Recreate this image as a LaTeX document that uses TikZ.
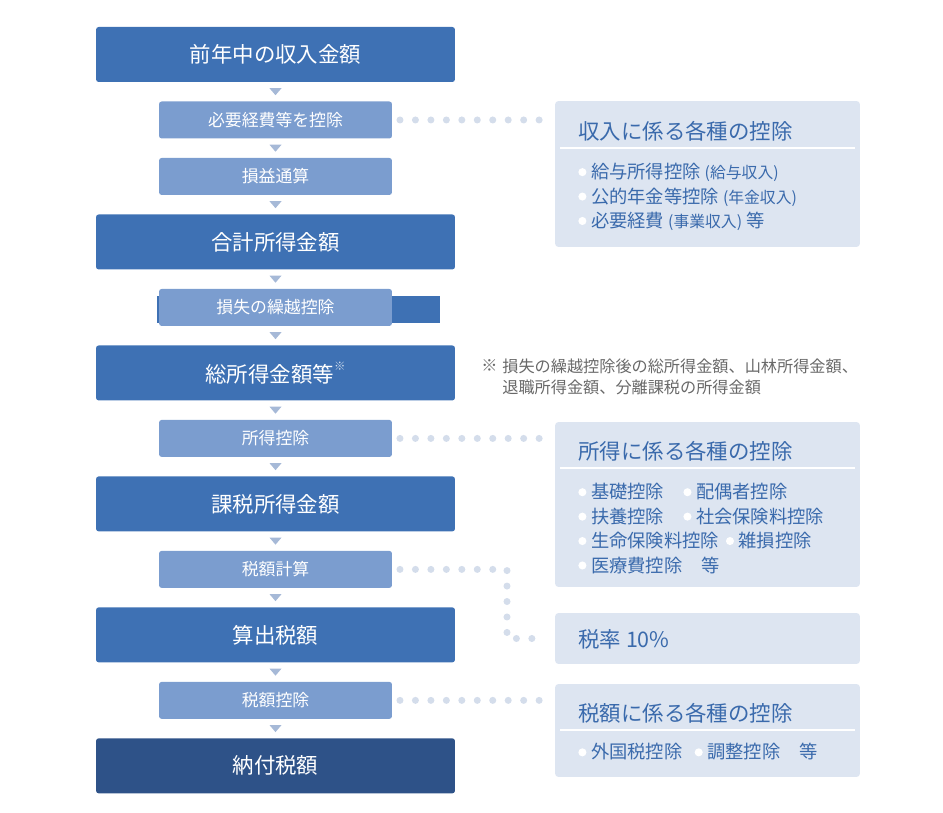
\documentclass[tikz,border=0pt]{standalone}
\usepackage{fontspec}
\setmainfont{Noto Sans CJK JP}
\usetikzlibrary{positioning}

\definecolor{mainblue}{RGB}{62,113,180}
\definecolor{stepblue}{RGB}{123,157,207}
\definecolor{finalblue}{RGB}{46,82,136}
\definecolor{panelblue}{RGB}{221,229,241}
\definecolor{inkblue}{RGB}{58,106,172}
\definecolor{dotgray}{RGB}{212,221,235}
\definecolor{triblue}{RGB}{166,185,215}
\definecolor{notegray}{RGB}{105,105,105}

\newcommand{\bul}{\tikz[baseline={-0.36em}]\fill[white] (0,0) circle[radius=2.3pt];\hspace{2.6pt}}
\newcommand{\paren}[1]{{\fontsize{9}{9}\selectfont #1}}

\begin{document}
\begin{tikzpicture}[x=0.02cm, y=-0.02cm, node distance=0.39cm,
    mainbox/.style={fill=mainblue, rounded corners=1.5pt, inner sep=1pt, outer sep=0pt, minimum width=7.18cm, minimum height=1.1cm, text=white, font=\fontsize{12.2}{14}\selectfont},
    stepbox/.style={fill=stepblue, rounded corners=1.5pt, inner sep=1pt, outer sep=0pt, minimum width=4.66cm, minimum height=0.74cm, text=white, font=\fontsize{9.6}{11}\selectfont},
    panel/.style={fill=panelblue, rounded corners=2pt, inner sep=0pt, outer sep=0pt, minimum width=6.1cm},
    paneltitle/.style={anchor=west, inner sep=0pt, text=inkblue, font=\fontsize{12.2}{14}\selectfont},
    itemlist/.style={anchor=west, inner sep=0pt, align=left, text=inkblue, font=\fontsize{10.4}{13.9}\selectfont},
    panelrule/.style={draw=white, line width=0.8pt},
    dots/.style={draw=dotgray, line width=4pt, line cap=round, dash pattern=on 0pt off 8.8pt, shorten <=0.16cm, shorten >=0.24cm}]
  \useasboundingbox (0,0) rectangle (943,813);

  % main column
  \fill[mainblue] (157,296) rectangle (440,323);
  \node (income) [mainbox] at (275.5,54.5) {前年中の収入金額};
  \node (expenses) [stepbox, below=of income] {必要経費等を控除};
  \node (offset) [stepbox, below=of expenses] {損益通算};
  \node (total) [mainbox, below=of offset] {合計所得金額};
  \node (carry) [stepbox, below=of total] {損失の繰越控除};
  \node (gross) [mainbox, below=of carry] {総所得金額等\raisebox{0.55em}{\textcolor{white!75!mainblue}{\fontsize{6.5}{6.5}\selectfont ※}}};
  \node (deduct) [stepbox, below=of gross] {所得控除};
  \node (taxable) [mainbox, below=of deduct] {課税所得金額};
  \node (calc) [stepbox, below=of taxable] {税額計算};
  \node (computed) [mainbox, below=of calc] {算出税額};
  \node (credit) [stepbox, below=of computed] {税額控除};
  \node (payable) [mainbox, fill=finalblue, below=of credit] {納付税額};

  \foreach \a/\b in {income/expenses, expenses/offset, offset/total, total/carry, carry/gross,
      gross/deduct, deduct/taxable, taxable/calc, calc/computed, computed/credit, credit/payable} {
    \path (\a) -- coordinate[midway] (gap) (\b);
    \fill[triblue] (gap) +(-6,-3.5) -- +(6,-3.5) -- +(0,3.5) -- cycle;
  }

  % panels on the right
  \node (incomepanel) [panel, minimum height=2.92cm] at (707.5,174) {};
  \node (incometitle) [paneltitle] at (578,131) {収入に係る各種の控除};
  \draw[panelrule] (560,148) -- (855,148);
  \node (incomeitems) [itemlist] at (578,197) {\bul 給与所得控除 \paren{(給与収入)}\\
    \bul 公的年金等控除 \paren{(年金収入)}\\
    \bul 必要経費 \paren{(事業収入)} 等};

  \node (deductpanel) [panel, minimum height=3.3cm] at (707.5,504.5) {};
  \node (deducttitle) [paneltitle] at (578,451) {所得に係る各種の控除};
  \draw[panelrule] (560,468) -- (855,468);
  \node (deductitems) [itemlist] at (578,528.5) {\bul 基礎控除\hspace{11pt}\bul 配偶者控除\\
    \bul 扶養控除\hspace{11pt}\bul 社会保険料控除\\
    \bul 生命保険料控除\hspace{4pt}\bul 雑損控除\\
    \bul 医療費控除\hspace{11pt}等};

  \node (ratepanel) [panel, minimum height=1.02cm] at (707.5,638.5) {};
  \node (ratetitle) [paneltitle] at (578,639) {税率 10\%};

  \node (creditpanel) [panel, minimum height=1.86cm] at (707.5,730.5) {};
  \node (credittitle) [paneltitle] at (578,713) {税額に係る各種の控除};
  \draw[panelrule] (560,730) -- (855,730);
  \node (credititems) [itemlist] at (578,752) {\bul 外国税控除\hspace{7pt}\bul 調整控除\hspace{11pt}等};

  % note
  \node (notemark) [anchor=west, inner sep=0pt, text=notegray, font=\fontsize{9.2}{11.9}\selectfont] at (481,366) {※};
  \node (note) [anchor=west, inner sep=0pt, align=left, text=notegray, font=\fontsize{9.2}{11.9}\selectfont] at (502,376.5)
    {損失の繰越控除後の総所得金額、山林所得金額、\\退職所得金額、分離課税の所得金額};

  % dotted leaders
  \coordinate (bend) at (507,600);
  \draw[dots] (expenses.east) -- (expenses.east -| incomepanel.west);
  \draw[dots] (deduct.east) -- (deduct.east -| deductpanel.west);
  \draw[dots] (calc.east) -| (bend) |- (ratepanel.west);
  \draw[dots] (credit.east) -- (credit.east -| creditpanel.west);
\end{tikzpicture}
\end{document}
